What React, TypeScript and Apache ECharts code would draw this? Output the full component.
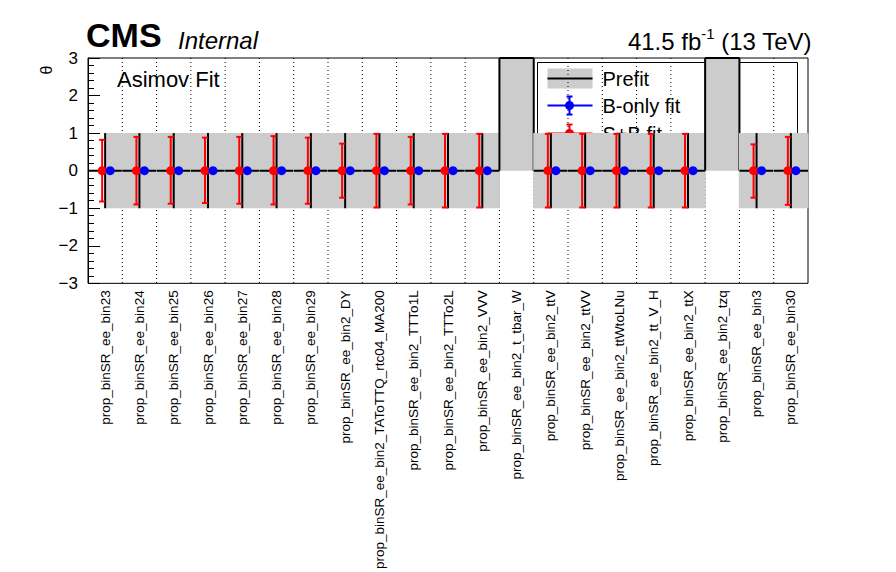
import { useEffect, useRef } from 'react';
import * as echarts from 'echarts';

const categories = [
  'prop_binSR_ee_bin23', 'prop_binSR_ee_bin24', 'prop_binSR_ee_bin25', 'prop_binSR_ee_bin26',
  'prop_binSR_ee_bin27', 'prop_binSR_ee_bin28', 'prop_binSR_ee_bin29', 'prop_binSR_ee_bin2_DY',
  'prop_binSR_ee_bin2_TAToTTQ_rtc04_MA200', 'prop_binSR_ee_bin2_TTTo1L', 'prop_binSR_ee_bin2_TTTo2L',
  'prop_binSR_ee_bin2_VVV', 'prop_binSR_ee_bin2_t_tbar_W', 'prop_binSR_ee_bin2_ttV',
  'prop_binSR_ee_bin2_ttVV', 'prop_binSR_ee_bin2_ttWtoLNu', 'prop_binSR_ee_bin2_tt_V_H',
  'prop_binSR_ee_bin2_ttX', 'prop_binSR_ee_bin2_tzq', 'prop_binSR_ee_bin3', 'prop_binSR_ee_bin30',
];
// prefit band (lower, upper) and central value
const prefitLo = [-1, -1, -1, -1, -1, -1, -1, -1, -1, -1, -1, -1, 0, -1, -1, -1, -1, -1, 0, -1, -1];
const prefitHi = [1, 1, 1, 1, 1, 1, 1, 1, 1, 1, 1, 1, 3, 1, 1, 1, 1, 1, 3, 1, 1];
const prefitVal = [0, 0, 0, 0, 0, 0, 0, 0, 0, 0, 0, 0, 3, 0, 0, 0, 0, 0, 3, 0, 0];
// S+B fit
const sbVal = [0, 0, 0, 0, 0, 0, 0, 0, 0, 0, 0, 0, null, 0, 0, 0, 0, 0, null, 0, 0];
const sbUp = [0.82, 0.9, 0.9, 0.88, 0.9, 0.92, 0.88, 0.72, 0.98, 0.9, 0.98, 0.98, null, 0.98, 0.98, 0.98, 0.98, 0.98, null, 0.7, 0.9];
const sbDn = [-0.82, -0.9, -0.88, -0.86, -0.88, -0.9, -0.88, -0.72, -0.98, -0.9, -0.98, -0.98, null, -0.98, -0.98, -0.98, -0.98, -0.98, null, -0.72, -0.91];
// B-only fit
const bVal = [0, 0, 0, 0, 0, 0, 0, 0, 0, 0, 0, 0, null, 0, 0, 0, 0, 0, null, 0, 0];

const FONT = 'Liberation Sans, Arial, sans-serif';

const App = () => {
  const chartRef = useRef<HTMLDivElement>(null);

  useEffect(() => {
    if (!chartRef.current) return;
    const myChart = echarts.init(chartRef.current, undefined, { renderer: 'svg' });

    const prefitData = categories.map((_, i) => [i, prefitLo[i], prefitHi[i], prefitVal[i]]);
    const sbErr = categories.map((_, i) => (sbVal[i] === null ? [i, null, null] : [i, sbDn[i], sbUp[i]]));

    const lx = 537, ly = 62, lw = 260, lh = 86;

    const option = {
      animation: false,
      grid: { left: 88, right: 88, top: 58, bottom: 200, show: true, borderColor: '#000', borderWidth: 1, backgroundColor: 'transparent' },
      xAxis: {
        type: 'category',
        data: categories,
        boundaryGap: true,
        axisLine: { show: false },
        axisTick: { show: false },
        splitLine: { show: false },
        axisLabel: { interval: 0, rotate: 90, fontSize: 13.5, color: '#000', fontFamily: FONT, margin: 7 },
      },
      yAxis: {
        type: 'value',
        min: -3,
        max: 3,
        interval: 1,
        axisLine: { show: true, lineStyle: { color: '#000' } },
        axisTick: { show: true, inside: true, length: 12, lineStyle: { color: '#000' } },
        minorTick: { show: true, splitNumber: 5, length: 6, lineStyle: { color: '#000' } },
        splitLine: { show: false },
        axisLabel: {
          fontSize: 17, color: '#000', fontFamily: FONT, margin: 10,
          formatter: (v: number) => (v < 0 ? '\u2212' + Math.abs(v) : String(v)),
        },
      },
      series: [
        {
          type: 'custom',
          z: 1,
          data: categories.map((_, i) => [i]),
          renderItem: (params: any, api: any) => {
            const i = api.value(0);
            if (i === categories.length - 1) return null;
            const c = api.coord([i, 0]);
            const w = api.size([1, 0])[0];
            const yT = api.coord([i, 3])[1];
            const yB = api.coord([i, -3])[1];
            const x = c[0] + w / 2;
            return { type: 'line', shape: { x1: x, y1: yT, x2: x, y2: yB }, style: { stroke: '#000', lineWidth: 1, lineDash: [1, 3] } };
          },
        },
        {
          type: 'custom',
          z: 2,
          data: prefitData,
          renderItem: (params: any, api: any) => {
            const i = api.value(0);
            const lo = api.value(1), hi = api.value(2), val = api.value(3);
            const c = api.coord([i, 0]);
            const w = api.size([1, 0])[0];
            const x0 = i === 0 && val === 0 ? c[0] : c[0] - w / 2;
            const x1 = c[0] + w / 2;
            const yLo = api.coord([i, lo])[1];
            const yHi = api.coord([i, hi])[1];
            const yVal = api.coord([i, val])[1];
            const black = { stroke: '#000', lineWidth: 2 };
            const children: any[] = [
              { type: 'rect', shape: { x: x0 - 0.5, y: yHi, width: x1 - x0 + 1, height: yLo - yHi }, style: { fill: '#cccccc' } },
              { type: 'line', shape: { x1: c[0] - w / 2, y1: yVal, x2: x1, y2: yVal }, style: black },
            ];
            if (val === 0) {
              children.push({ type: 'line', shape: { x1: c[0], y1: yLo, x2: c[0], y2: yHi }, style: black });
            } else {
              children.push({ type: 'line', shape: { x1: c[0] - w / 2, y1: yLo, x2: c[0] - w / 2, y2: yVal }, style: black });
              children.push({ type: 'line', shape: { x1: x1, y1: yLo, x2: x1, y2: yVal }, style: black });
            }
            return { type: 'group', children };
          },
        },
        {
          type: 'custom',
          z: 3,
          data: sbErr,
          renderItem: (params: any, api: any) => {
            const i = api.value(0);
            if (isNaN(api.value(1))) return null;
            const a = api.coord([i, api.value(1)]);
            const b = api.coord([i, api.value(2)]);
            const x = a[0] - 3;
            const st = { stroke: '#ff0000', lineWidth: 2 };
            return {
              type: 'group',
              children: [
                { type: 'line', shape: { x1: x, y1: a[1], x2: x, y2: b[1] }, style: st },
                { type: 'line', shape: { x1: x - 3, y1: a[1], x2: x + 3, y2: a[1] }, style: st },
                { type: 'line', shape: { x1: x - 3, y1: b[1], x2: x + 3, y2: b[1] }, style: st },
              ],
            };
          },
        },
        {
          type: 'scatter',
          z: 4,
          data: sbVal,
          symbolSize: 9,
          symbolOffset: [-3, 0],
          itemStyle: { color: '#ff0000', opacity: 1 },
        },
        {
          type: 'scatter',
          z: 5,
          data: bVal,
          symbolSize: 9,
          symbolOffset: [5, 0],
          itemStyle: { color: '#0000ff', opacity: 1 },
        },
      ],
      graphic: [
        { type: 'text', left: 86, top: 18, style: { text: 'CMS', font: `bold 34px ${FONT}`, fill: '#000' } },
        { type: 'text', left: 178, top: 28, style: { text: 'Internal', font: `italic 24px ${FONT}`, fill: '#000' } },
        {
          type: 'text', right: 84, top: 26,
          style: {
            text: '{a|41.5 fb}{s|-1}{a| (13 TeV)}',
            rich: {
              a: { fontSize: 24, fontFamily: FONT, fill: '#000', verticalAlign: 'bottom' },
              s: { fontSize: 15, fontFamily: FONT, fill: '#000', verticalAlign: 'top', padding: [0, 0, 12, 0] },
            },
          },
        },
        { type: 'text', x: 46, y: 70, rotation: Math.PI / 2, style: { text: 'θ', font: `16px ${FONT}`, fill: '#000', align: 'center', verticalAlign: 'middle' } },
        { type: 'text', left: 117, top: 68, style: { text: 'Asimov Fit', font: `22px ${FONT}`, fill: '#000' } },
        {
          type: 'group', left: lx, top: ly, z: 100,
          children: [
            { type: 'rect', shape: { x: 0, y: 0, width: lw, height: lh }, style: { fill: '#fff', stroke: '#000', lineWidth: 1 } },
            { type: 'rect', shape: { x: 10, y: 6, width: 45, height: 20 }, style: { fill: '#cccccc' } },
            { type: 'line', shape: { x1: 10, y1: 16, x2: 55, y2: 16 }, style: { stroke: '#000', lineWidth: 2 } },
            { type: 'text', x: 65, y: 16, style: { text: 'Prefit', font: `20px ${FONT}`, fill: '#000', verticalAlign: 'middle' } },
            { type: 'line', shape: { x1: 10, y1: 43, x2: 55, y2: 43 }, style: { stroke: '#0000ff', lineWidth: 2 } },
            { type: 'line', shape: { x1: 32, y1: 34, x2: 32, y2: 52 }, style: { stroke: '#0000ff', lineWidth: 2 } },
            { type: 'line', shape: { x1: 29, y1: 34, x2: 35, y2: 34 }, style: { stroke: '#0000ff', lineWidth: 2 } },
            { type: 'line', shape: { x1: 29, y1: 52, x2: 35, y2: 52 }, style: { stroke: '#0000ff', lineWidth: 2 } },
            { type: 'circle', shape: { cx: 32, cy: 43, r: 4.5 }, style: { fill: '#0000ff' } },
            { type: 'text', x: 65, y: 43, style: { text: 'B-only fit', font: `20px ${FONT}`, fill: '#000', verticalAlign: 'middle' } },
            { type: 'line', shape: { x1: 10, y1: 71, x2: 55, y2: 71 }, style: { stroke: '#ff0000', lineWidth: 2 } },
            { type: 'line', shape: { x1: 32, y1: 62, x2: 32, y2: 80 }, style: { stroke: '#ff0000', lineWidth: 2 } },
            { type: 'line', shape: { x1: 29, y1: 62, x2: 35, y2: 62 }, style: { stroke: '#ff0000', lineWidth: 2 } },
            { type: 'line', shape: { x1: 29, y1: 80, x2: 35, y2: 80 }, style: { stroke: '#ff0000', lineWidth: 2 } },
            { type: 'circle', shape: { cx: 32, cy: 71, r: 4.5 }, style: { fill: '#ff0000' } },
            { type: 'text', x: 65, y: 71, style: { text: 'S+B fit', font: `20px ${FONT}`, fill: '#000', verticalAlign: 'middle' } },
          ],
        },
      ],
    };

    myChart.setOption(option);
    const handleResize = () => myChart.resize();
    window.addEventListener('resize', handleResize);
    return () => {
      window.removeEventListener('resize', handleResize);
      myChart.dispose();
    };
  }, []);

  return (
    <div
      ref={chartRef}
      style={{ position: 'absolute', left: 0, top: 0, width: '896px', height: '572px', background: '#fff' }}
    />
  );
};

export default App;
